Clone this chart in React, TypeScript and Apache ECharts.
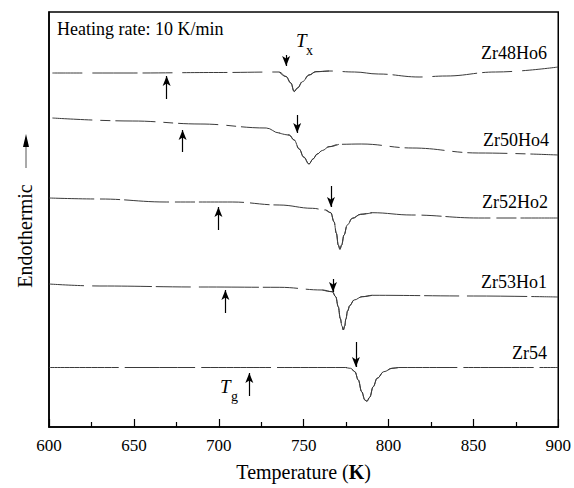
import React, { useEffect, useRef } from "react";
import * as echarts from "echarts";

// Temperature (K) vs. DSC signal (arbitrary units, offset curves)
const seriesNames = ["Zr48Ho6", "Zr50Ho4", "Zr52Ho2", "Zr53Ho1", "Zr54"];

const zr48Ho6 = [
  [602, 354], [650, 354], [700, 354.5], [735.6, 355], [739.6, 350.5], [742.5, 344],
  [744.4, 335.5], [746.4, 339], [749.3, 345.3], [753.2, 352], [757.2, 355.3], [765, 356],
  [780, 355], [794, 353], [818, 350], [834, 351], [863, 355], [900, 360],
];
const zr50Ho4 = [
  [602, 309], [649, 306], [689, 303], [728, 299], [735.6, 294], [741.5, 292],
  [744.4, 287], [747.4, 278], [750, 270], [753.2, 263], [755.5, 268], [758, 273],
  [761, 276.5], [765, 280.3], [770.8, 282.7], [784, 283], [814, 279], [853, 274], [900, 272],
];
const zr52Ho2 = [
  [600, 229], [630, 228], [669, 225], [708, 225], [735.6, 222], [755.2, 218.7],
  [763, 217], [766, 214.3], [767.9, 205.3], [769.3, 193.7], [770.4, 182], [771.4, 177.7],
  [772.4, 182], [773.8, 192], [775.7, 202], [778.7, 208.7], [783.6, 212.7], [790.4, 214.3],
  [813.7, 212], [853, 209], [900, 209],
];
const zr53Ho1 = [
  [600, 143], [630, 141], [689, 140], [735.6, 139.7], [761, 137], [766.9, 135.3],
  [768.9, 130.3], [770.4, 120.3], [771.6, 108.5], [772.6, 101], [773.4, 97], [774.2, 101],
  [774.9, 108], [775.9, 116], [777.2, 121.5], [779.7, 127], [784.5, 130.3], [790.4, 131.7],
  [850, 131], [900, 130],
];
const zr54 = [
  [600, 59.5], [700, 59.5], [774.8, 59.5], [777.7, 58.7], [780.2, 55.3], [782.2, 47],
  [784.2, 35.3], [786.1, 27], [787.3, 25.7], [788.9, 29.7], [791, 40.3], [793.3, 48.7],
  [797.3, 55.3], [802.1, 58.7], [806, 59.5], [850, 59.5], [900, 59.5],
];
const curves = [zr48Ho6, zr50Ho4, zr52Ho2, zr53Ho1, zr54];

// Crystallization onset Tx arrows: [T, from, to] (pointing down)
const txArrows = [
  [739.7, 372, 361], [746.2, 312, 294], [766.1, 241, 220], [767.3, 148, 135], [780.8, 85, 60],
];
// Glass transition Tg arrows: [T, from, to] (pointing up)
const tgArrows = [
  [669.3, 328, 351], [678.7, 275, 297], [699.8, 197, 220], [703.9, 114, 137], [718, 31, 54],
];

const xTicks = [600, 650, 700, 750, 800, 850, 900];

const FONT = "'Liberation Serif', 'Times New Roman', serif";
const dashes = [
  [30, 10, 45, 5],
  [40, 8, 10, 5],
  [45, 6, 20, 4],
  [35, 8, 60, 4],
  [70, 6],
];
// temperature span drawn as a continuous line around each peak
const solidSpans = [
  [735.6, 765], [735.6, 770.8], [763, 790.4], [761, 790.4], [774.8, 806],
];
const labelPos = [
  [547, 53], [549, 140], [548, 202], [547, 282], [547, 353],
];

export default function App() {
  const ref = useRef<HTMLDivElement>(null);
  useEffect(() => {
    if (!ref.current) return;
    const chart = echarts.init(ref.current, null, { renderer: "svg" });
    const series: any[] = [];
    curves.forEach((data, i) => {
      series.push({
        name: seriesNames[i],
        type: "line",
        data,
        symbol: "none",
        smooth: 0.4,
        smoothMonotone: "x",
        lineStyle: { color: "#3a3a3a", width: 1, type: dashes[i] },
        markLine: {
          silent: true,
          symbol: ["none", "arrow"],
          symbolSize: [6, 10],
          label: { show: false },
          lineStyle: { color: "#000", width: 1.2, type: "solid" },
          data: [
            [{ coord: [txArrows[i][0], txArrows[i][1]] }, { coord: [txArrows[i][0], txArrows[i][2]] }],
            [{ coord: [tgArrows[i][0], tgArrows[i][1]] }, { coord: [tgArrows[i][0], tgArrows[i][2]] }],
          ],
        },
      });
      series.push({
        name: seriesNames[i] + " peak",
        type: "line",
        data: data.filter((p) => p[0] >= solidSpans[i][0] && p[0] <= solidSpans[i][1]),
        symbol: "none",
        smooth: 0.4,
        smoothMonotone: "x",
        lineStyle: { color: "#3a3a3a", width: 1, type: "solid" },
      });
    });
    chart.setOption({
      animation: false,
      backgroundColor: "#fff",
      grid: {
        left: 49, right: 14, top: 12, bottom: 61,
        show: true, borderColor: "#000", borderWidth: 1.5,
      },
      xAxis: {
        type: "value",
        min: 600, max: 900, interval: 50,
        name: "Temperature ({b|K})",
        nameLocation: "middle",
        nameGap: 35,
        nameTextStyle: {
          fontFamily: FONT, fontSize: 20, color: "#000",
          rich: { b: { fontFamily: FONT, fontSize: 20, fontWeight: "bold", color: "#000" } },
        },
        axisLine: { show: true, lineStyle: { color: "#000", width: 1.5 } },
        axisTick: { show: true, inside: true, length: 8, lineStyle: { color: "#000", width: 1.2 } },
        minorTick: { show: true, splitNumber: 2, length: 5, lineStyle: { color: "#000", width: 1.2 } },
        splitLine: { show: false },
        axisLabel: {
          fontFamily: FONT, fontSize: 17, color: "#000", margin: 10,
          formatter: (v: number) => (xTicks.includes(v) ? String(v) : ""),
        },
      },
      yAxis: {
        type: "value",
        min: 0, max: 415,
        axisLine: { show: true, lineStyle: { color: "#000", width: 1.5 } },
        axisTick: { show: false },
        axisLabel: { show: false },
        splitLine: { show: false },
      },
      series,
      graphic: [
        {
          type: "text", left: 57, top: 20,
          style: { text: "Heating rate: 10 K/min", fontFamily: FONT, fontSize: 18, fill: "#000" },
        },
        ...seriesNames.map((n, i) => ({
          type: "text", x: labelPos[i][0], y: labelPos[i][1],
          style: {
            text: n, fontFamily: FONT, fontSize: 18, fill: "#000",
            textAlign: "right", textVerticalAlign: "middle",
          },
        })),
        {
          type: "text", x: 296, y: 40,
          style: { text: "T", fontFamily: FONT, fontStyle: "italic", fontSize: 19, fill: "#000", textVerticalAlign: "middle" },
        },
        {
          type: "text", x: 306, y: 50,
          style: { text: "x", fontFamily: FONT, fontSize: 14, fill: "#000", textVerticalAlign: "middle" },
        },
        {
          type: "text", x: 220, y: 386,
          style: { text: "T", fontFamily: FONT, fontStyle: "italic", fontSize: 19, fill: "#000", textVerticalAlign: "middle" },
        },
        {
          type: "text", x: 231, y: 396,
          style: { text: "g", fontFamily: FONT, fontSize: 14, fill: "#000", textVerticalAlign: "middle" },
        },
        {
          type: "text", x: 25, y: 236, rotation: Math.PI / 2,
          style: {
            text: "Endothermic", fontFamily: FONT, fontSize: 20, fill: "#000",
            textAlign: "center", textVerticalAlign: "middle",
          },
        },
        {
          type: "line",
          shape: { x1: 26, y1: 168, x2: 26, y2: 145 },
          style: { stroke: "#555", lineWidth: 1 },
        },
        {
          type: "polygon",
          shape: { points: [[26, 134], [23, 147], [29, 147]] },
          style: { fill: "#000" },
        },
      ],
    });
    return () => chart.dispose();
  }, []);
  return (
    <div
      ref={ref}
      style={{ position: "absolute", left: 0, top: 0, width: 574, height: 488 }}
    />
  );
}
